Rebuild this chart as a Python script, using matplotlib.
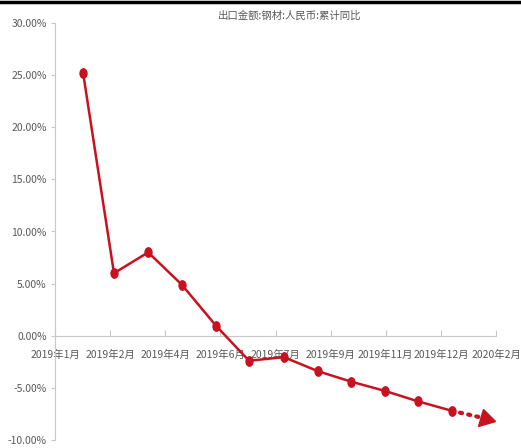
import matplotlib
matplotlib.use("Agg")
import matplotlib.pyplot as plt
from matplotlib.markers import MarkerStyle
from matplotlib.transforms import Affine2D
from matplotlib.ticker import FuncFormatter

plt.rcParams["font.family"] = ["Noto Sans CJK SC", "DejaVu Sans"]

# cumulative YoY growth of steel export value (RMB), %
x_pos = [0.51, 1.07, 1.69, 2.30, 2.92, 3.52, 4.15, 4.77, 5.37, 5.99, 6.59, 7.20]
yoy = [25.2, 6.0, 8.0, 4.9, 0.96, -2.4, -2.05, -3.4, -4.4, -5.3, -6.3, -7.2]

# projected direction after the last reading
trend_x = [7.20, 7.86]
trend_y = [-7.2, -8.0]

tick_labels = ["2019年1月", "2019年2月", "2019年4月", "2019年6月", "2019年7月",
               "2019年9月", "2019年11月", "2019年12月", "2020年2月"]
y_ticks = [-10, -5, 0, 5, 10, 15, 20, 25, 30]

red = "#C8121F"
grey = "#595959"

fig = plt.figure(figsize=(5.21, 4.48), dpi=100)
ax = fig.add_axes([55 / 521, 8 / 448, 441 / 521, 417 / 448])

# thick black rule along the top edge
fig.add_artist(plt.Line2D([0, 1], [0.9945, 0.9945], transform=fig.transFigure,
                          color="black", lw=2.5))

oval = MarkerStyle("o", transform=Affine2D().scale(1.0, 1.35))
ax.plot(x_pos, yoy, color=red, lw=1.8, marker=oval, ms=5, zorder=3)

ax.plot(trend_x, trend_y, color=red, lw=3.0, ls=(0, (0.5, 1.5)),
        dash_capstyle="round", zorder=3)
arrow = MarkerStyle(">", transform=Affine2D().scale(1.0, 1.15).rotate_deg(-15))
ax.plot([trend_x[-1]], [trend_y[-1]], color=red, marker=arrow, ms=11, ls="none", zorder=4)

ax.set_xlim(0, 8)
ax.set_ylim(-10, 30)
ax.set_yticks(y_ticks)
ax.yaxis.set_major_formatter(FuncFormatter(lambda v, p: f"{v:.2f}%"))
ax.set_xticks(range(len(tick_labels)))
ax.set_xticklabels(tick_labels)

for s in ["top", "right"]:
    ax.spines[s].set_visible(False)
ax.spines["bottom"].set_position(("data", 0))
ax.spines["bottom"].set_color("#c8c8c8")
ax.spines["left"].set_color("#c8c8c8")

ax.tick_params(axis="y", direction="out", length=3, color="#c8c8c8",
               labelsize=7.5, labelcolor=grey, pad=3)
ax.tick_params(axis="x", direction="in", length=4, color="#c8c8c8",
               labelsize=7.5, labelcolor=grey, pad=10)

fig.text(290 / 521, 1 - 16 / 448, "出口金额:钢材:人民币:累计同比", ha="center", va="center",
         fontsize=7.5, color=grey)

fig.savefig("out.png", dpi=100)
